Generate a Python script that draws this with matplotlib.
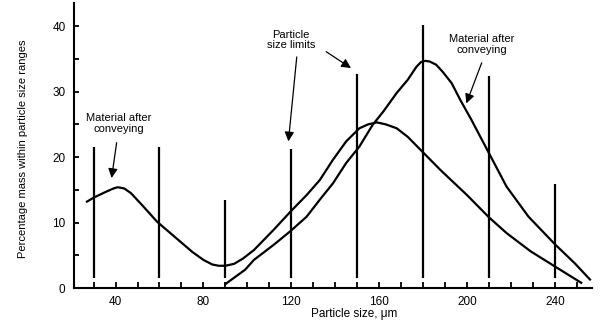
import matplotlib
matplotlib.use("Agg")
import matplotlib.pyplot as plt
from matplotlib.ticker import MultipleLocator

plt.rcParams['font.family'] = ['Liberation Sans Narrow', 'Liberation Sans', 'DejaVu Sans']

# Curve A: bimodal distribution (hump near 40 µm, peak near 158 µm)
curve_a_x = [27, 30, 35, 39, 41, 44, 47, 52, 59, 67, 75, 80, 84, 87, 90, 94, 98, 103, 112,
             120, 127, 133, 139, 145, 151, 155, 159, 163, 168, 173, 178, 188, 200, 210,
             218, 229, 240, 252]
curve_a_y = [13.2, 13.8, 14.6, 15.2, 15.4, 15.2, 14.5, 12.7, 10.1, 7.8, 5.5, 4.3, 3.6, 3.4,
             3.4, 3.7, 4.5, 5.8, 8.9, 11.8, 14.2, 16.5, 19.6, 22.4, 24.4, 25.0, 25.3, 25.0,
             24.4, 23.1, 21.4, 18.0, 14.2, 10.8, 8.4, 5.6, 3.3, 0.8]

# Curve B: single peak near 181 µm
curve_b_x = [90, 99, 103, 112, 120, 127, 133, 139, 145, 151, 157, 162, 168, 173, 177, 179,
             181, 183, 186, 189, 193, 197, 202, 210, 218, 228, 240, 249, 256]
curve_b_y = [0.6, 2.8, 4.3, 6.6, 8.8, 10.9, 13.5, 16.0, 19.1, 21.6, 24.9, 27.0, 29.8, 31.8,
             33.8, 34.5, 34.7, 34.6, 34.1, 33.0, 31.3, 28.7, 25.7, 20.6, 15.5, 10.9, 6.7,
             3.8, 1.3]

# Particle size limits (vertical bars)
limit_x = [30, 60, 90, 120, 150, 180, 210, 240]
limit_top = [21.5, 21.5, 13.4, 21.2, 32.7, 40.2, 32.4, 15.9]
limit_bottom = 1.5

x_ticklabels = [40, 80, 120, 160, 200, 240]
y_ticklabels = [0, 10, 20, 30, 40]

fig = plt.figure(figsize=(6.0, 3.24), dpi=100)
ax = fig.add_axes([0.123, 0.111, 0.864, 0.879])

ax.plot(curve_a_x, curve_a_y, color='black', lw=1.6, solid_joinstyle='round')
ax.plot(curve_b_x, curve_b_y, color='black', lw=1.6, solid_joinstyle='round')
ax.vlines(limit_x, limit_bottom, limit_top, color='black', lw=1.6)

ax.set_xlim(21, 257)
ax.set_ylim(0, 43.5)
ax.set_xticks(x_ticklabels)
ax.set_yticks(y_ticklabels)
ax.xaxis.set_minor_locator(MultipleLocator(10))
ax.yaxis.set_minor_locator(MultipleLocator(5))
ax.tick_params(which='both', direction='in', width=1.3, labelsize=8.5)
ax.tick_params(axis='x', which='both', length=4, pad=6)
ax.tick_params(axis='y', which='both', length=3.5, pad=6)

for s in ['top', 'right']:
    ax.spines[s].set_visible(False)
for s in ['left', 'bottom']:
    ax.spines[s].set_linewidth(1.5)

ax.set_xlabel('Particle size, μm', fontsize=8.5)
ax.xaxis.set_label_coords(0.54, -0.09)
ax.xaxis.label.set_va('center')
ax.set_ylabel('Percentage mass within particle size ranges', fontsize=8)
ax.yaxis.set_label_coords(-0.098, 0.49)
ax.yaxis.label.set_va('center')

arrow = dict(arrowstyle='-|>', color='black', lw=0.9, mutation_scale=14,
             shrinkA=0, shrinkB=0)

ax.text(41.4, 25.1, 'Material after\nconveying', ha='center', va='center',
        fontsize=8, linespacing=1.1)
ax.annotate('', xy=(38.2, 16.8), xytext=(40.5, 22.2), arrowprops=arrow)

ax.text(119.8, 37.9, 'Particle\nsize limits', ha='center', va='center',
        fontsize=8, linespacing=1.1)
ax.annotate('', xy=(118.7, 22.4), xytext=(122.5, 35.3), arrowprops=arrow)
ax.annotate('', xy=(147.2, 33.6), xytext=(135.9, 36.1), arrowprops=arrow)

ax.text(206.7, 37.2, 'Material after\nconveying', ha='center', va='center',
        fontsize=8, linespacing=1.1)
ax.annotate('', xy=(199.7, 28.2), xytext=(206.7, 34.4), arrowprops=arrow)

fig.savefig('out.png', dpi=100)
